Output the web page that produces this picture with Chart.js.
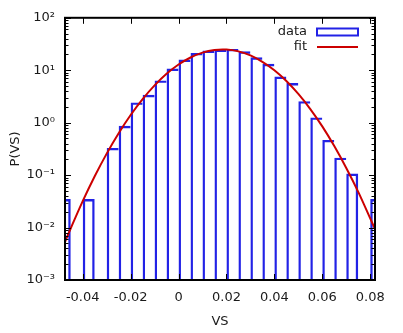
<!DOCTYPE html>
<html>
<head>
<meta charset="utf-8">
<script src="https://cdn.jsdelivr.net/npm/chart.js@4/dist/chart.umd.min.js"></script>
<style>
  html, body { margin: 0; padding: 0; background: #fff; }
  canvas { display: block; }
</style>
</head>
<body>
<canvas id="grafico" width="403" height="333"></canvas>
<script>
// histograma de VS (centros de bin, ancho 0.005) y ajuste gaussiano
const binCenters = [-0.0475, -0.0425, -0.0375, -0.0325, -0.0275, -0.0225, -0.0175, -0.0125, -0.0075, -0.0025,
  0.0025, 0.0075, 0.0125, 0.0175, 0.0225, 0.0275, 0.0325, 0.0375, 0.0425, 0.0475,
  0.0525, 0.0575, 0.0625, 0.0675, 0.0725, 0.0775, 0.0825];
const counts = [0.035, null, 0.035, null, 0.33, 0.87, 2.43, 3.4, 6.4, 10.8,
  16, 21.4, 23.7, 24.7, 25.5, 22.9, 17.7, 13.3, 7.6, 5.7,
  2.57, 1.26, 0.47, 0.215, 0.107, null, 0.035];

const fitX = [-0.0474, -0.045, -0.04, -0.035, -0.03, -0.025, -0.02, -0.015, -0.01, -0.005, 0,
  0.005, 0.01, 0.015, 0.02, 0.025, 0.03, 0.035, 0.04, 0.045, 0.05,
  0.055, 0.06, 0.065, 0.07, 0.075, 0.08, 0.082];
const fitY = [0.0053, 0.0097, 0.032, 0.095, 0.257, 0.63, 1.40, 2.82, 5.15, 8.55, 12.85,
  17.5, 21.7, 24.35, 24.8, 22.9, 19.15, 14.5, 10.0, 6.25, 3.54,
  1.82, 0.85, 0.358, 0.137, 0.048, 0.015, 0.0093];

const xTicks = [-0.04, -0.02, 0, 0.02, 0.04, 0.06, 0.08];
const yDecades = [-3, -2, -1, 0, 1, 2];

const AZUL = '#2222e6';
const ROJO = '#cc0000';
const TEXTO = '#1a1a1a';
const FUENTE = { family: 'DejaVu Sans', size: 13 };

const sup = { '-': '⁻', '0': '⁰', '1': '¹', '2': '²', '3': '³' };
const potencia = (e) => '10' + String(e).split('').map(c => sup[c]).join('');

// marco y marcas hacia dentro, estilo gnuplot
const marco = {
  id: 'marco',
  afterDatasetsDraw(chart) {
    const { ctx, chartArea: a, scales } = chart;
    ctx.save();
    ctx.strokeStyle = '#000';
    ctx.lineWidth = 1;
    xTicks.forEach(v => {
      const px = Math.round(scales.x.getPixelForValue(v)) + 0.5;
      ctx.beginPath();
      ctx.moveTo(px, a.top); ctx.lineTo(px, a.top + 6);
      ctx.moveTo(px, a.bottom); ctx.lineTo(px, a.bottom - 6);
      ctx.stroke();
    });
    yDecades.forEach(e => {
      for (let m = 1; m <= 9; m++) {
        const v = m * Math.pow(10, e);
        if (v > 100 || v < 0.001) continue;
        const py = Math.round(scales.y.getPixelForValue(v)) + 0.5;
        const len = m === 1 ? 6 : 3.5;
        ctx.beginPath();
        ctx.moveTo(a.left, py); ctx.lineTo(a.left + len, py);
        ctx.moveTo(a.right, py); ctx.lineTo(a.right - len, py);
        ctx.stroke();
      }
    });
    ctx.lineWidth = 2;
    ctx.strokeRect(a.left, a.top, a.right - a.left, a.bottom - a.top);

    // leyenda
    ctx.font = '13px "DejaVu Sans"';
    ctx.fillStyle = TEXTO;
    ctx.textAlign = 'right';
    ctx.textBaseline = 'middle';
    ctx.fillText(chart.data.datasets[1].label, 307, 31.5);
    ctx.fillText(chart.data.datasets[0].label, 307, 47);
    ctx.strokeStyle = AZUL;
    ctx.lineWidth = 2;
    ctx.strokeRect(317, 28.5, 41, 7);
    ctx.strokeStyle = ROJO;
    ctx.beginPath();
    ctx.moveTo(317, 47); ctx.lineTo(358, 47);
    ctx.stroke();
    ctx.restore();
  }
};

// borde derecho solo cuando el bin siguiente está vacío (evita bordes dobles)
const bordeBarra = (c) => ({
  top: 2.4, left: 2.4, bottom: 0,
  right: counts[c.dataIndex + 1] == null ? 2.4 : 0
});

new Chart(document.getElementById('grafico'), {
  type: 'bar',
  data: {
    datasets: [
      {
        type: 'line',
        label: 'fit',
        data: fitX.map((x, i) => ({ x, y: fitY[i] })),
        borderColor: ROJO,
        borderWidth: 2,
        pointRadius: 0,
        tension: 0.3,
        order: 0,
        clip: 0
      },
      {
        type: 'bar',
        label: 'data',
        data: binCenters.map((x, i) => ({ x, y: counts[i] })),
        backgroundColor: 'rgba(0,0,0,0)',
        borderColor: AZUL,
        borderWidth: bordeBarra,
        borderSkipped: false,
        inflateAmount: 0,
        barPercentage: 1,
        categoryPercentage: 1,
        order: 1,
        clip: 0
      }
    ]
  },
  options: {
    responsive: false,
    animation: false,
    devicePixelRatio: 1,
    layout: { padding: { top: 16, right: 28, left: 0, bottom: 0 } },
    plugins: { legend: { display: false }, tooltip: { enabled: false } },
    scales: {
      x: {
        type: 'linear',
        offset: false,
        min: -0.0474,
        max: 0.082,
        grid: { display: false, drawTicks: false },
        border: { display: false },
        afterBuildTicks: (s) => { s.ticks = xTicks.map(v => ({ value: v })); },
        afterFit: (s) => { s.height = 53; },
        ticks: {
          color: TEXTO, font: FUENTE, padding: 10, maxRotation: 0,
          callback: (v) => String(Math.round(v * 100) / 100)
        },
        title: { display: true, text: 'VS', color: TEXTO, font: FUENTE, padding: { top: 0, bottom: 4 } }
      },
      y: {
        type: 'logarithmic',
        min: 0.001,
        max: 100,
        grid: { display: false, drawTicks: false },
        border: { display: false },
        afterBuildTicks: (s) => { s.ticks = yDecades.map(e => ({ value: Math.pow(10, e), major: true })); },
        afterFit: (s) => { s.width = 65; },
        ticks: {
          color: TEXTO, font: FUENTE, padding: 10,
          callback: (v) => potencia(Math.round(Math.log10(v)))
        },
        title: { display: true, text: 'P(VS)', color: TEXTO, font: FUENTE, padding: { top: 8, bottom: 0 } }
      }
    }
  },
  plugins: [marco]
});
</script>
</body>
</html>
